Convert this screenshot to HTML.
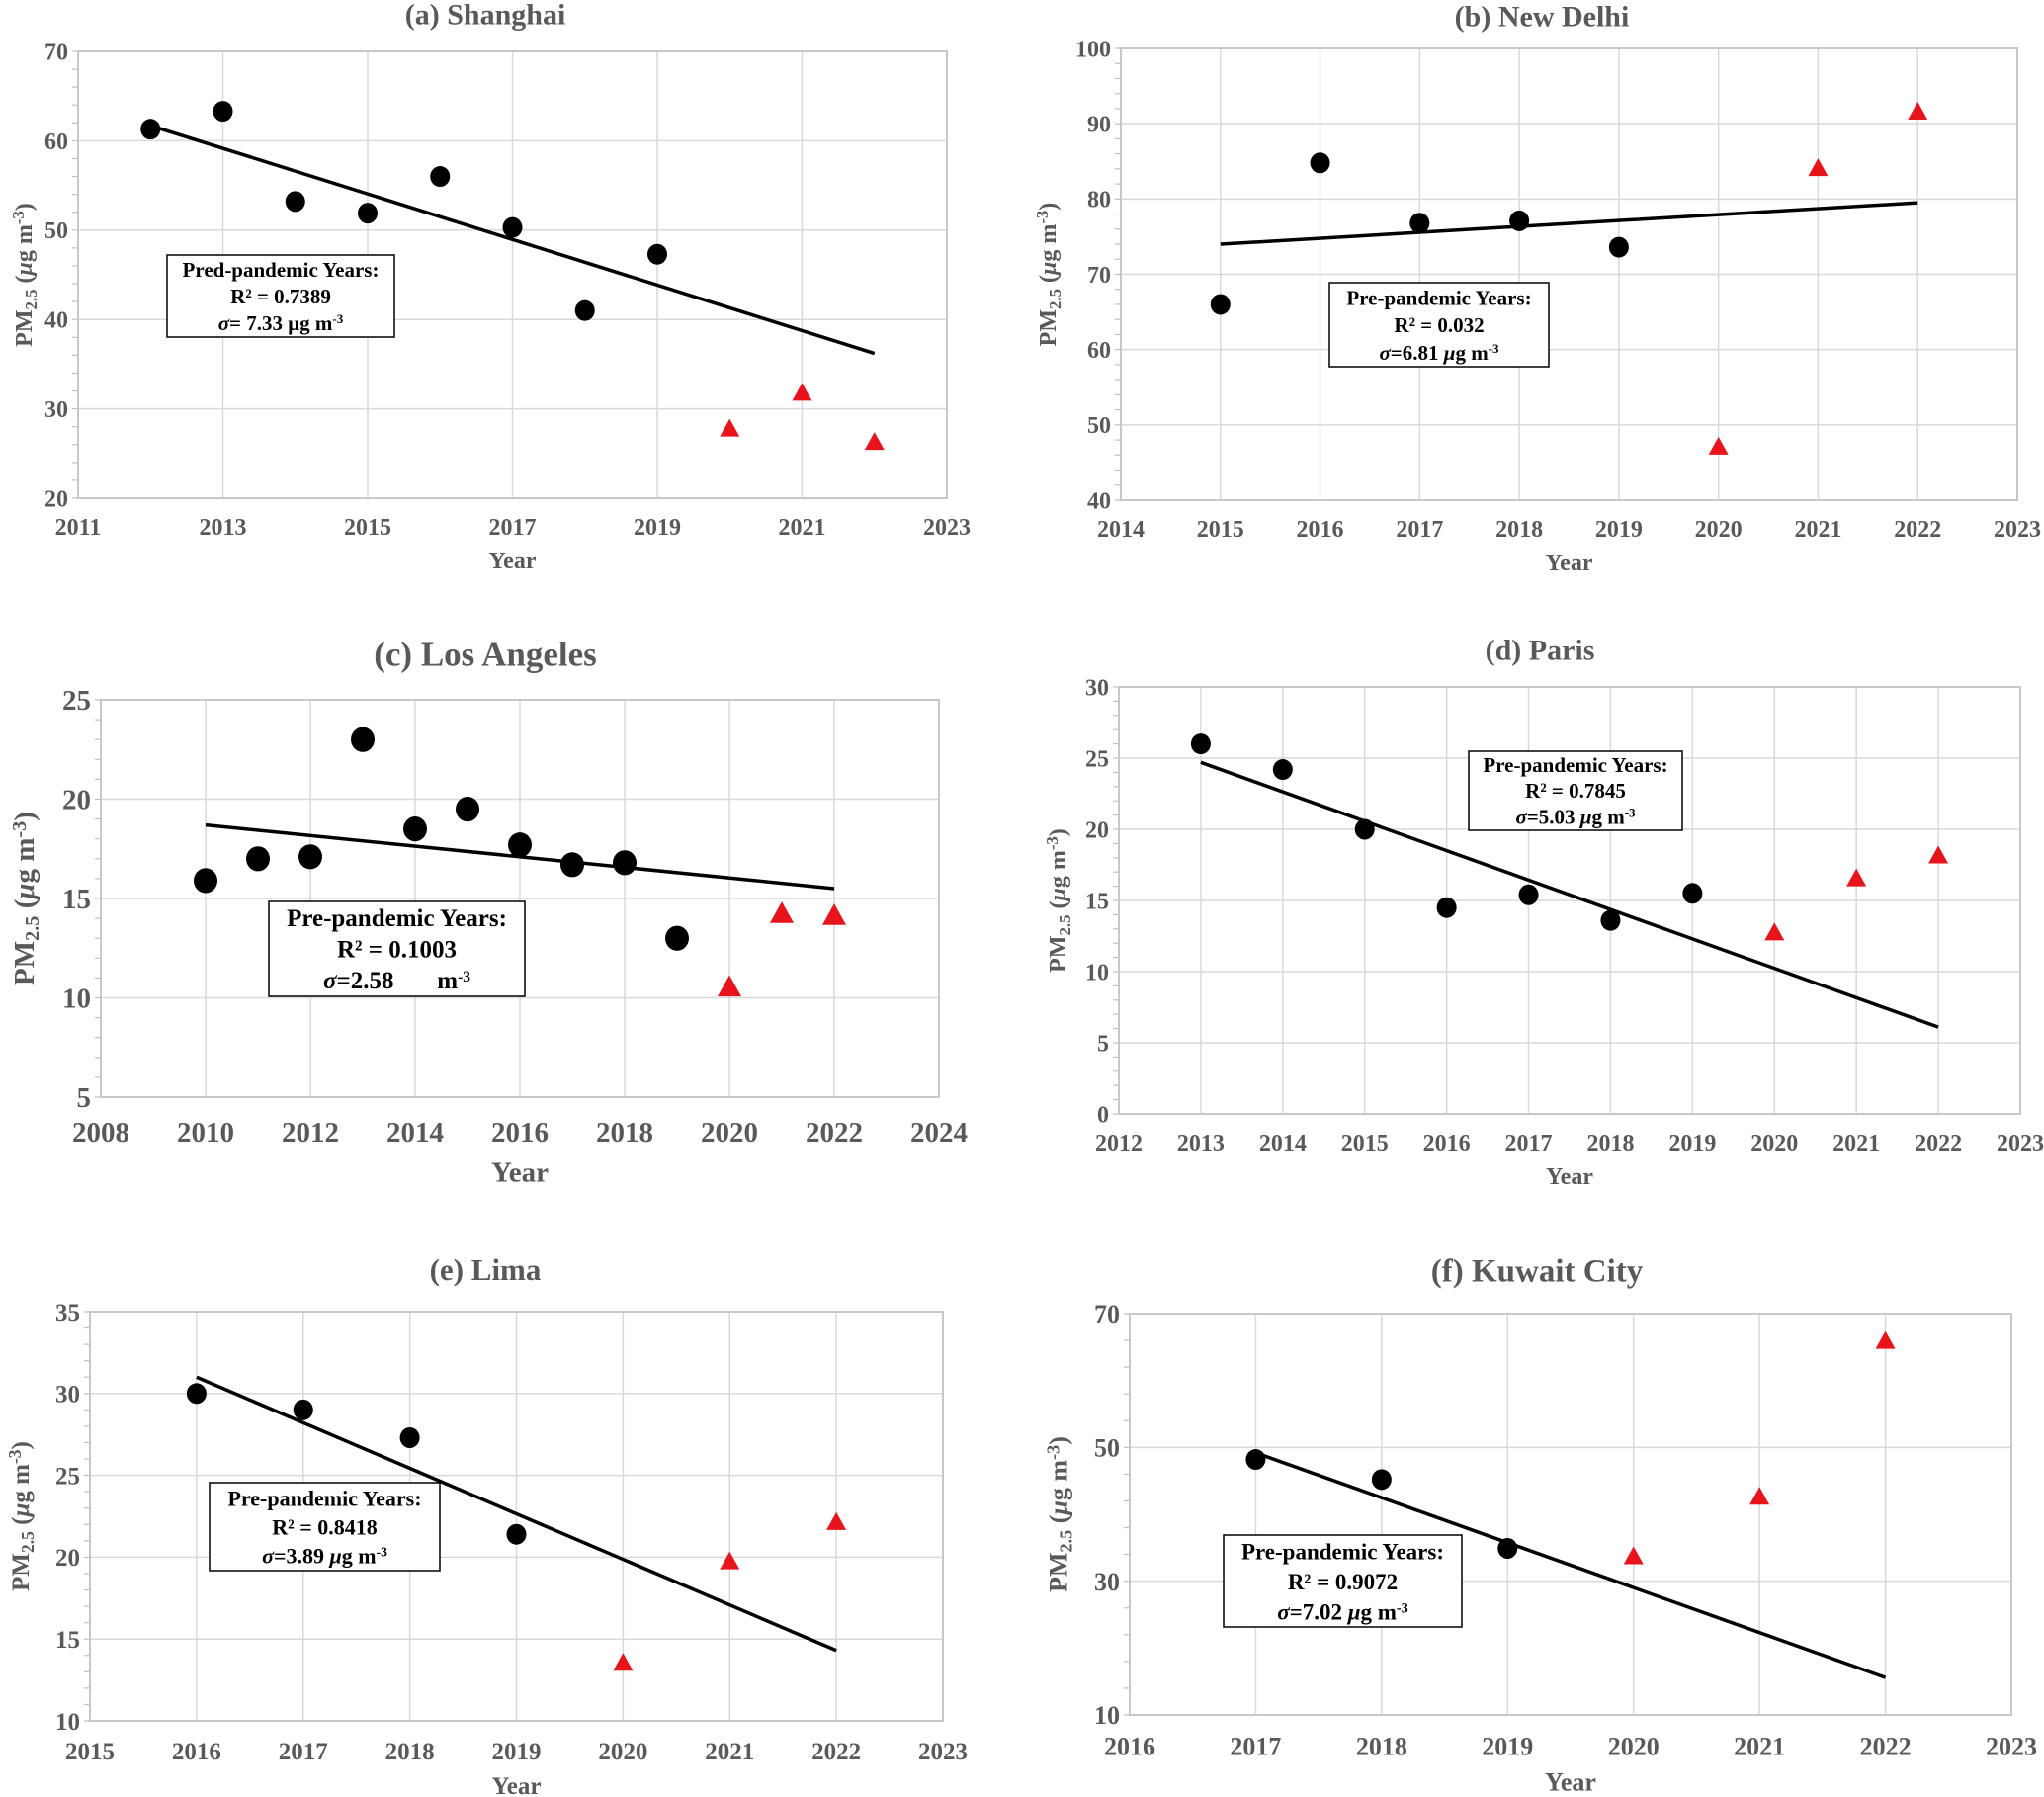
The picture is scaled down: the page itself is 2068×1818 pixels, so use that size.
<!DOCTYPE html>
<html><head><meta charset="utf-8"><style>
html,body{margin:0;padding:0;background:#fff}
svg{display:block}
text{font-family:"Liberation Serif",serif;font-weight:bold}
</style></head><body>
<svg id="fig" width="2068" height="1818" viewBox="0 0 2068 1818" xmlns="http://www.w3.org/2000/svg"></svg>
<script>
// ---- data (a) Shanghai
const shYears=[2012,2013,2014,2015,2016,2017,2018,2019];
const shValues=[61.3,63.3,53.2,51.9,56.0,50.3,41.0,47.3];
const shPandemicYears=[2020,2021,2022];
const shPandemicValues=[27.7,31.7,26.2];
const shTrend=[61.7,36.2];
const shXTicks=[2011,2013,2015,2017,2019,2021,2023];
const shYTicks=[20,30,40,50,60,70];
// ---- data (b) New Delhi
const ndYears=[2015,2016,2017,2018,2019];
const ndValues=[66.0,84.8,76.8,77.1,73.6];
const ndPandemicYears=[2020,2021,2022];
const ndPandemicValues=[47.0,84.0,91.5];
const ndTrend=[74.0,79.5];
const ndXTicks=[2014,2015,2016,2017,2018,2019,2020,2021,2022,2023];
const ndYTicks=[40,50,60,70,80,90,100];
// ---- data (c) Los Angeles
const laYears=[2010,2011,2012,2013,2014,2015,2016,2017,2018,2019];
const laValues=[15.9,17.0,17.1,23.0,18.5,19.5,17.7,16.7,16.8,13.0];
const laPandemicYears=[2020,2021,2022];
const laPandemicValues=[10.5,14.2,14.1];
const laTrend=[18.7,15.5];
const laXTicks=[2008,2010,2012,2014,2016,2018,2020,2022,2024];
const laYTicks=[5,10,15,20,25];
// ---- data (d) Paris
const paYears=[2013,2014,2015,2016,2017,2018,2019];
const paValues=[26.0,24.2,20.0,14.5,15.4,13.6,15.5];
const paPandemicYears=[2020,2021,2022];
const paPandemicValues=[12.7,16.5,18.1];
const paTrend=[24.7,6.1];
const paXTicks=[2012,2013,2014,2015,2016,2017,2018,2019,2020,2021,2022,2023];
const paYTicks=[0,5,10,15,20,25,30];
// ---- data (e) Lima
const liYears=[2016,2017,2018,2019];
const liValues=[30.0,29.0,27.3,21.4];
const liPandemicYears=[2020,2021,2022];
const liPandemicValues=[13.5,19.7,22.1];
const liTrend=[31.0,14.3];
const liXTicks=[2015,2016,2017,2018,2019,2020,2021,2022,2023];
const liYTicks=[10,15,20,25,30,35];
// ---- data (f) Kuwait City
const kuYears=[2017,2018,2019];
const kuValues=[48.2,45.2,34.9];
const kuPandemicYears=[2020,2021,2022];
const kuPandemicValues=[33.6,42.5,65.8];
const kuTrend=[49.2,15.6];
const kuXTicks=[2016,2017,2018,2019,2020,2021,2022,2023];
const kuYTicks=[10,30,50,70];

const NS="http://www.w3.org/2000/svg";
const svg=document.getElementById('fig');
function mk(tag,attrs,parent){const e=document.createElementNS(NS,tag);for(const k in attrs)e.setAttribute(k,attrs[k]);(parent||svg).appendChild(e);return e;}

const panels=[
 {id:'shanghai',title:'(a) Shanghai',tx:491,ty:14,L:79,R:958,T:52,B:504,ylab:14,fs:24,tfs:30,r:10,minor:2,
  years:shYears,vals:shValues,pY:shPandemicYears,pV:shPandemicValues,trend:shTrend,xt:shXTicks,yt:shYTicks,
  box:[169,258,230,83],lines:['Pred-pandemic Years:','R² = 0.7389','σ|= 7.33 μg m|-3'],bfs:21,italMu:false},
 {id:'new-delhi',title:'(b) New Delhi',tx:1560,ty:16,L:1134,R:2041,T:49,B:506,ylab:1050,fs:24,tfs:30,r:10,minor:2,
  years:ndYears,vals:ndValues,pY:ndPandemicYears,pV:ndPandemicValues,trend:ndTrend,xt:ndXTicks,yt:ndYTicks,
  box:[1345,286,222,85],lines:['Pre-pandemic Years:','R² = 0.032','σ|=6.81 μg m|-3'],bfs:21,italMu:true,normalTicks:true},
 {id:'los-angeles',title:'(c) Los Angeles',tx:491,ty:661,L:102,R:950,T:708,B:1110,ylab:12,fs:29,tfs:35,r:12,minor:1,
  years:laYears,vals:laValues,pY:laPandemicYears,pV:laPandemicValues,trend:laTrend,xt:laXTicks,yt:laYTicks,
  box:[272,912,259,96],lines:['Pre-pandemic Years:','R² = 0.1003','σ|=2.58\u00a0\u00a0\u00a0\u00a0\u00a0\u00a0\u00a0m|-3'],bfs:25,italMu:false},
 {id:'paris',title:'(d) Paris',tx:1558,ty:657,L:1132,R:2044,T:695,B:1127,ylab:1060,fs:24,tfs:30,r:10,minor:1,
  years:paYears,vals:paValues,pY:paPandemicYears,pV:paPandemicValues,trend:paTrend,xt:paXTicks,yt:paYTicks,
  box:[1486,760,216,80],lines:['Pre-pandemic Years:','R² = 0.7845','σ|=5.03 μg m|-3'],bfs:21,italMu:true},
 {id:'lima',title:'(e) Lima',tx:491,ty:1284,L:91,R:954,T:1327,B:1741,ylab:10,fs:25,tfs:31,r:10,minor:1,
  years:liYears,vals:liValues,pY:liPandemicYears,pV:liPandemicValues,trend:liTrend,xt:liXTicks,yt:liYTicks,
  box:[212,1500,233,89],lines:['Pre-pandemic Years:','R² = 0.8418','σ|=3.89 μg m|-3'],bfs:22,italMu:true},
 {id:'kuwait-city',title:'(f) Kuwait City',tx:1555,ty:1285,L:1143,R:2035,T:1329,B:1735,ylab:1060,fs:26,tfs:33,r:10,minor:4,
  years:kuYears,vals:kuValues,pY:kuPandemicYears,pV:kuPandemicValues,trend:kuTrend,xt:kuXTicks,yt:kuYTicks,
  box:[1238,1553,241,93],lines:['Pre-pandemic Years:','R² = 0.9072','σ|=7.02 μg m|-3'],bfs:23,italMu:true}
];

panels.forEach(p=>{
  const g=mk('g',{});
  
  
  const x0=p.xt[0],x1=p.xt[p.xt.length-1],y0=p.yt[0],y1=p.yt[p.yt.length-1];
  const X=v=>p.L+(v-x0)/(x1-x0)*(p.R-p.L);
  const Y=v=>p.B-(v-y0)/(y1-y0)*(p.B-p.T);
  const grey='#595959';
  p.xt.forEach(t=>{const l=mk('line',{x1:X(t),x2:X(t),y1:p.T,y2:p.B,stroke:'#d9d9d9','stroke-width':1.5},g);
    });
  p.yt.forEach(t=>{const l=mk('line',{x1:p.L,x2:p.R,y1:Y(t),y2:Y(t),stroke:'#d9d9d9','stroke-width':1.5},g);
    });
  for(let v=y0;v<=y1+1e-9;v+=p.minor){const l=mk('line',{x1:p.L-6,x2:p.L,y1:Y(v),y2:Y(v),stroke:'#bfbfbf','stroke-width':1.2},g);
    }
  const fr=mk('rect',{x:p.L,y:p.T,width:p.R-p.L,height:p.B-p.T,fill:'none',stroke:'#c8c8c8','stroke-width':2},g);
  
  p.xt.forEach(t=>{const e=mk('text',{x:X(t),y:p.B+p.fs*1.55,'font-size':p.fs,fill:grey,'text-anchor':'middle'},g);
    if(p.normalTicks)e.setAttribute('font-weight','normal');
    e.textContent=t;});
  p.yt.forEach(t=>{const e=mk('text',{x:p.L-10,y:Y(t)+p.fs*0.35,'font-size':p.fs,fill:grey,'text-anchor':'end'},g);
    if(p.normalTicks)e.setAttribute('font-weight','normal');
    e.textContent=t;});
  const tt=mk('text',{x:p.tx,y:p.ty+p.tfs*0.35,'font-size':p.tfs,fill:grey,'text-anchor':'middle'},g);
  tt.textContent=p.title;
  const xtt=mk('text',{x:(p.L+p.R)/2,y:p.B+p.fs*2.95,'font-size':p.fs,fill:grey,'text-anchor':'middle'},g);
  if(p.normalTicks)xtt.setAttribute('font-weight','normal');
  xtt.textContent='Year';
  const cy=(p.T+p.B)/2;
  const yt=mk('text',{x:0,y:0,'font-size':p.fs,fill:grey,'text-anchor':'middle',transform:`translate(${p.ylab+p.fs*0.75},${cy}) rotate(-90)`},g);
  
  yt.innerHTML=`PM<tspan font-size="${p.fs*0.7}" dy="5">2.5</tspan><tspan dy="-5"> (</tspan><tspan font-style="italic">μ</tspan>g m<tspan font-size="${p.fs*0.7}" dy="-8">-3</tspan><tspan dy="8">)</tspan>`;
  const tl=mk('line',{x1:X(p.years[0]),y1:Y(p.trend[0]),x2:X(p.pY[p.pY.length-1]),y2:Y(p.trend[1]),stroke:'#000','stroke-width':3.5},g);
  
  p.years.forEach((yr,i)=>{const c=mk('ellipse',{cx:X(yr),cy:Y(p.vals[i]),rx:p.r,ry:p.r*1.05,fill:'#000'},g);
    });
  p.pY.forEach((yr,i)=>{const cx=X(yr),cy2=Y(p.pV[i]),w=p.r*1.0,h=p.r*1.8;
    const t=mk('polygon',{points:`${cx},${cy2-h*0.6} ${cx-w},${cy2+h*0.4} ${cx+w},${cy2+h*0.4}`,fill:'#e8141c'},g);
    });
  const [bx,by,bw,bh]=p.box;
  const bg=mk('g',{},g);
  
  mk('rect',{x:bx,y:by,width:bw,height:bh,fill:'#fff',stroke:'#000','stroke-width':1.5},bg);
  const lh=bh/3.05;
  p.lines.forEach((s,i)=>{
    const e=mk('text',{x:bx+bw/2,y:by+lh*(i+0.8),'font-size':p.bfs,fill:'#000','text-anchor':'middle'},bg);
    if(s.indexOf('|')>=0){const parts=s.split('|');
      const mu=p.italMu?parts[1].replace('μ','<tspan font-style="italic">μ</tspan>'):parts[1];
      e.innerHTML=`<tspan font-style="italic">${parts[0]}</tspan>${mu}<tspan font-size="${p.bfs*0.62}" dy="-7">${parts[2]}</tspan>`;}
    else e.textContent=s;
  });
});
</script>
</body></html>
